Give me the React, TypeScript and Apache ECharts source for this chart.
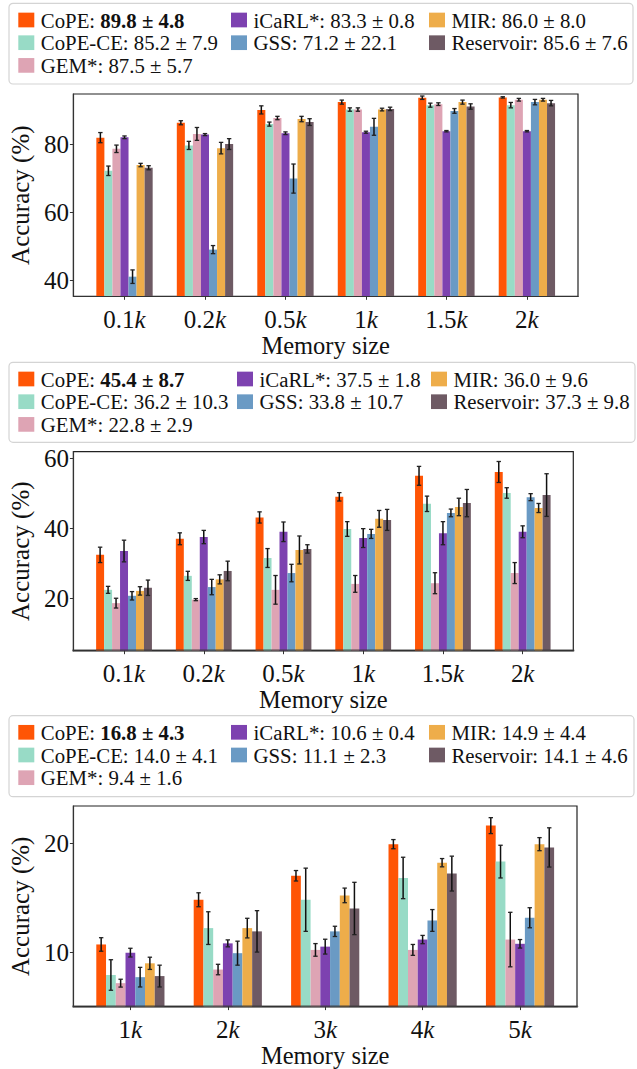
import React, { useEffect, useRef } from 'react';
import * as echarts from 'echarts';

const FONT = '"Liberation Serif", "Times New Roman", serif';

const methods = ['CoPE', 'CoPE-CE', 'GEM*', 'iCaRL*', 'GSS', 'MIR', 'Reservoir'];
const colors = ['#FF5505', '#98DBC6', '#DEA4B4', '#7D42B0', '#6A9AC4', '#EEAD4A', '#6E5A64'];

// Panel 1
const p1Labels = ['0.1', '0.2', '0.5', '1', '1.5', '2'];
const p1Summary = ['89.8 ± 4.8', '85.2 ± 7.9', '87.5 ± 5.7', '83.3 ± 0.8', '71.2 ± 22.1', '86.0 ± 8.0', '85.6 ± 7.6'];
const p1Means = [
  [82.1, 86.5, 90.3, 92.6, 93.9, 94.0],
  [72.3, 79.8, 86.1, 90.4, 91.7, 91.7],
  [78.8, 83.2, 87.9, 90.4, 92.0, 93.3],
  [82.2, 83.0, 83.4, 83.7, 84.0, 84.0],
  [41.0, 49.0, 70.0, 85.3, 90.0, 92.6],
  [74.0, 79.0, 87.6, 90.4, 92.6, 93.3],
  [73.2, 80.2, 86.7, 90.6, 91.3, 92.3],
];
const p1Errs = [
  [1.5, 0.6, 1.2, 0.6, 0.5, 0.2],
  [1.4, 1.2, 0.6, 0.5, 0.6, 0.8],
  [1.1, 1.9, 0.5, 0.5, 0.4, 0.4],
  [0.4, 0.3, 0.4, 0.3, 0.2, 0.2],
  [2.0, 1.2, 4.3, 2.5, 0.7, 0.8],
  [0.5, 1.7, 0.8, 0.4, 0.6, 0.4],
  [0.6, 1.6, 1.0, 0.5, 0.8, 0.8],
];
const p1YTicks = [40, 60, 80];

// Panel 2
const p2Labels = ['0.1', '0.2', '0.5', '1', '1.5', '2'];
const p2Summary = ['45.4 ± 8.7', '36.2 ± 10.3', '22.8 ± 2.9', '37.5 ± 1.8', '33.8 ± 10.7', '36.0 ± 9.6', '37.3 ± 9.8'];
const p2Means = [
  [32.4, 37.0, 43.1, 49.0, 55.0, 56.1],
  [22.4, 26.4, 31.5, 39.8, 47.0, 50.1],
  [18.6, 19.6, 22.4, 24.1, 24.3, 27.2],
  [33.5, 37.5, 39.0, 37.2, 38.6, 39.0],
  [20.7, 23.2, 27.2, 38.4, 44.4, 48.9],
  [22.1, 25.4, 33.8, 42.7, 46.1, 45.8],
  [23.0, 27.8, 34.1, 42.4, 47.2, 49.5],
];
const p2Errs = [
  [2.2, 1.7, 1.6, 1.2, 2.7, 3.0],
  [1.0, 1.3, 2.7, 2.1, 2.2, 1.5],
  [1.4, 0.3, 4.1, 2.4, 3.0, 3.0],
  [3.1, 1.9, 2.8, 2.7, 3.3, 1.7],
  [1.2, 2.2, 2.5, 1.3, 1.1, 1.0],
  [1.2, 1.3, 4.0, 2.4, 2.5, 1.3],
  [2.2, 2.8, 1.2, 3.0, 3.9, 6.1],
];
const p2YTicks = [20, 40, 60];

// Panel 3
const p3Labels = ['1', '2', '3', '4', '5'];
const p3Summary = ['16.8 ± 4.3', '14.0 ± 4.1', '9.4 ± 1.6', '10.6 ± 0.4', '11.1 ± 2.3', '14.9 ± 4.4', '14.1 ± 4.6'];
const p3Means = [
  [10.7, 14.8, 17.0, 19.9, 21.6],
  [7.9, 12.2, 14.8, 16.8, 18.3],
  [7.15, 8.4, 10.2, 10.2, 11.15],
  [9.95, 10.8, 10.5, 11.15, 10.76],
  [7.7, 9.9, 11.9, 12.9, 13.15],
  [8.97, 12.2, 15.2, 18.2, 19.9],
  [7.8, 11.9, 14.0, 17.2, 19.6],
];
const p3Errs = [
  [0.62, 0.64, 0.48, 0.42, 0.73],
  [1.4, 1.5, 2.9, 1.9, 1.5],
  [0.36, 0.48, 0.58, 0.5, 2.5],
  [0.4, 0.32, 0.68, 0.38, 0.39],
  [0.9, 1.1, 0.47, 1.0, 0.92],
  [0.56, 0.9, 0.67, 0.38, 0.6],
  [1.0, 1.9, 2.4, 1.6, 1.8],
];
const p3YTicks = [10, 20];

const legendColumns = [[0, 1, 2], [3, 4], [5, 6]];

const panels = [
  {
    labels: p1Labels, summary: p1Summary, means: p1Means, errs: p1Errs, yTicks: p1YTicks,
    yMin: 35.2, yMax: 95, xMin: -0.635, xMax: 5.635,
    grid: { left: 67.7, top: 94, width: 510.3, height: 202.3 },
    legBox: { x: 9, y: 3.3, w: 624, h: 80.7 }, legRow0: 20, legCols: [18.3, 231, 429],
    bottomLine: { color: '#333', width: 1 },
  },
  {
    labels: p2Labels, summary: p2Summary, means: p2Means, errs: p2Errs, yTicks: p2YTicks,
    yMin: 5, yMax: 61.9, xMin: -0.635, xMax: 5.635,
    grid: { left: 71.3, top: 451.7, width: 502, height: 199 },
    legBox: { x: 9, y: 362.3, w: 626, h: 80 }, legRow0: 379, legCols: [18.3, 237, 431],
    bottomLine: { color: 'rgba(60,60,60,0.6)', width: 2.5 },
  },
  {
    labels: p3Labels, summary: p3Summary, means: p3Means, errs: p3Errs, yTicks: p3YTicks,
    yMin: 5, yMax: 23.4, xMin: -0.585, xMax: 4.585,
    grid: { left: 67.7, top: 806, width: 509.3, height: 203 },
    legBox: { x: 9, y: 715.7, w: 625, h: 81 }, legRow0: 732.3, legCols: [18.3, 231, 429],
    bottomLine: { color: 'rgba(60,60,60,0.6)', width: 2.5 },
  },
];

function buildOption() {
  const grid: any[] = [];
  const xAxis: any[] = [];
  const yAxis: any[] = [];
  const series: any[] = [];
  const legend: any[] = [];
  const elements: any[] = [];

  panels.forEach((p, pi) => {
    grid.push({
      left: p.grid.left, top: p.grid.top, width: p.grid.width, height: p.grid.height,
      show: true, borderColor: '#222', borderWidth: 1.2, backgroundColor: 'transparent',
    });
    const groupIdx = p.labels.map((_, i) => i);
    xAxis.push({
      type: 'value', gridIndex: pi, min: p.xMin, max: p.xMax, z: 5,
      name: 'Memory size', nameLocation: 'middle', nameGap: 36,
      nameTextStyle: { fontFamily: FONT, fontSize: 24.5, color: '#111' },
      splitLine: { show: false },
      axisLine: { show: true, onZero: false, lineStyle: { color: p.bottomLine.color, width: p.bottomLine.width } },
      axisTick: { show: true, customValues: groupIdx, length: 3.5, lineStyle: { color: '#333', width: 1 } },
      axisLabel: {
        customValues: groupIdx, margin: 10.5, color: '#111',
        formatter: (v: number) => `{n|${p.labels[Math.round(v)]}}{k|k}`,
        rich: {
          n: { fontFamily: FONT, fontSize: 25, color: '#111', lineHeight: 25 },
          k: { fontFamily: FONT, fontSize: 25, fontStyle: 'italic', color: '#111', lineHeight: 25 },
        },
      },
    });
    yAxis.push({
      type: 'value', gridIndex: pi, min: p.yMin, max: p.yMax, z: 5,
      name: 'Accuracy (%)', nameLocation: 'middle', nameGap: 33,
      nameTextStyle: { fontFamily: FONT, fontSize: 25, color: '#111' },
      splitLine: { show: false },
      axisLine: { show: true, onZero: false, lineStyle: { color: '#333', width: 1.2 } },
      axisTick: { show: true, customValues: p.yTicks, length: 3.5, lineStyle: { color: '#333', width: 1 } },
      axisLabel: { customValues: p.yTicks, margin: 4.5, fontFamily: FONT, fontSize: 25, color: '#111' },
    });

    methods.forEach((m, mi) => {
      const off = (mi - 3) * 0.1;
      const color = colors[mi];
      const yMin = p.yMin;
      series.push({
        type: 'custom', name: m, xAxisIndex: pi, yAxisIndex: pi,
        itemStyle: { color },
        encode: { x: 0, y: 1 },
        data: p.means[mi].map((v, gi) => [gi, v, p.errs[mi][gi]]),
        renderItem: (params: any, api: any) => {
          const g = api.value(0);
          const v = api.value(1);
          const e = api.value(2);
          const xc = g + off;
          const a = api.coord([xc - 0.05, v]);
          const b = api.coord([xc + 0.05, yMin]);
          const t = api.coord([xc, v + e]);
          const bt = api.coord([xc, v - e]);
          const cap = 2.2;
          return {
            type: 'group',
            children: [
              { type: 'rect', shape: { x: a[0], y: a[1], width: b[0] - a[0], height: b[1] - a[1] }, style: { fill: color } },
              { type: 'line', shape: { x1: t[0], y1: t[1], x2: bt[0], y2: bt[1] }, style: { stroke: '#111', lineWidth: 1.5 } },
              { type: 'line', shape: { x1: t[0] - cap, y1: t[1], x2: t[0] + cap, y2: t[1] }, style: { stroke: '#222', lineWidth: 1.3 } },
              { type: 'line', shape: { x1: bt[0] - cap, y1: bt[1], x2: bt[0] + cap, y2: bt[1] }, style: { stroke: '#222', lineWidth: 1.3 } },
            ],
          };
        },
      });
    });

    elements.push({
      type: 'rect', z: 1,
      shape: { x: p.legBox.x, y: p.legBox.y, width: p.legBox.w, height: p.legBox.h, r: 4 },
      style: { fill: '#fff', stroke: '#d4d4d4', lineWidth: 1.2 },
    });

    legendColumns.forEach((col, ci) => {
      legend.push({
        orient: 'vertical', left: p.legCols[ci], top: p.legRow0 - 11.35,
        padding: 0, itemGap: 0, itemWidth: 16, itemHeight: 14.7, icon: 'rect',
        selectedMode: false,
        data: col.map((i) => methods[i]),
        formatter: (name: string) => {
          const idx = methods.indexOf(name);
          if (idx === 0) return `${name}: {b|${p.summary[idx]}}`;
          return `${name}: ${p.summary[idx]}`;
        },
        textStyle: {
          fontFamily: FONT, fontSize: 20.8, color: '#111', lineHeight: 22.7, padding: [0, 0, 0, 1.5],
          rich: { b: { fontFamily: FONT, fontSize: 20.8, fontWeight: 'bold', color: '#111', lineHeight: 22.7 } },
        },
      });
    });
  });

  return {
    animation: false,
    backgroundColor: '#fff',
    grid, xAxis, yAxis, series, legend,
    graphic: { elements },
  };
}

export default function App() {
  const ref = useRef<HTMLDivElement>(null);
  useEffect(() => {
    if (!ref.current) return;
    const chart = echarts.init(ref.current, undefined, { renderer: 'svg' });
    chart.setOption(buildOption() as any);
    return () => chart.dispose();
  }, []);
  return <div ref={ref} style={{ position: 'absolute', left: 0, top: 0, width: 637, height: 1069 }} />;
}
